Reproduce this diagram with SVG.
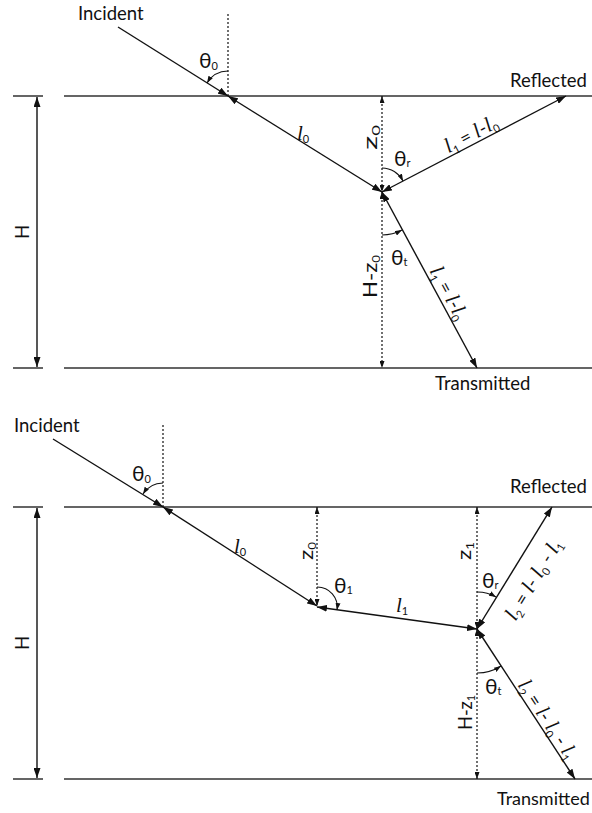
<svg xmlns="http://www.w3.org/2000/svg" width="592" height="813" viewBox="0 0 592 813">
<style>
.surf{stroke:#333;stroke-width:1.5;fill:none}
.ray{stroke:#111;stroke-width:1.4;fill:none}
.dot{stroke:#111;stroke-width:1.2;stroke-dasharray:2 2;fill:none}
.arc{stroke:#111;stroke-width:1.1;fill:none}
text{font-family:Lato,"Liberation Sans",sans-serif;font-size:18.5px;fill:#111}
.it{font-family:"Liberation Serif",serif;font-style:italic;font-size:21px}
.th{font-size:21px}
.sub{font-size:11px}
</style>
<defs>
<marker id="ah" viewBox="0 0 10 7" refX="10" refY="3.5" markerWidth="10" markerHeight="7" markerUnits="userSpaceOnUse" orient="auto-start-reverse"><path d="M0,0 L10,3.5 L0,7z" fill="#111"/></marker>
<marker id="as" viewBox="0 0 7 5" refX="7" refY="2.5" markerWidth="7" markerHeight="5" markerUnits="userSpaceOnUse" orient="auto-start-reverse"><path d="M0,0 L7,2.5 L0,5z" fill="#111"/></marker>
</defs>

<g id="surfaces">
<path class="surf" d="M13,96H43 M64,96H592 M13,368H43 M64,368H592"/>
<path class="surf" d="M13,507H43 M64,507H592 M13,779H43 M64,779H592"/>
</g>

<g id="connectors">
<line class="ray" x1="37" y1="97" x2="37" y2="367" marker-start="url(#ah)" marker-end="url(#ah)"/>
<line class="ray" x1="118" y1="27" x2="228" y2="96" marker-end="url(#ah)"/>
<line class="dot" x1="228" y1="14" x2="228" y2="96"/>
<line class="ray" x1="228" y1="96" x2="382" y2="192" marker-start="url(#ah)" marker-end="url(#ah)"/>
<line class="ray" x1="382" y1="192" x2="566" y2="96" marker-start="url(#ah)" marker-end="url(#ah)"/>
<line class="ray" x1="382" y1="192" x2="477" y2="368" marker-start="url(#ah)" marker-end="url(#ah)"/>
<line class="dot" x1="382" y1="96" x2="382" y2="192" marker-start="url(#as)" marker-end="url(#as)"/>
<line class="dot" x1="382" y1="192" x2="382" y2="368" marker-start="url(#as)" marker-end="url(#as)"/>
<path class="arc" d="M228,71 A25,25 0 0 0 207,83" marker-end="url(#as)"/>
<path class="arc" d="M382,168 A24,24 0 0 1 403,181" marker-end="url(#as)"/>
<path class="arc" d="M382,235 A43,43 0 0 0 402,230" marker-end="url(#as)"/>
<line class="ray" x1="37" y1="508" x2="37" y2="778" marker-start="url(#ah)" marker-end="url(#ah)"/>
<line class="ray" x1="53" y1="439" x2="163" y2="507" marker-end="url(#ah)"/>
<line class="dot" x1="163" y1="425" x2="163" y2="507"/>
<line class="ray" x1="163" y1="507" x2="317" y2="606" marker-start="url(#ah)" marker-end="url(#ah)"/>
<line class="dot" x1="317" y1="507" x2="317" y2="606" marker-start="url(#as)" marker-end="url(#as)"/>
<line class="ray" x1="317" y1="607" x2="477" y2="629" marker-start="url(#ah)" marker-end="url(#ah)"/>
<line class="dot" x1="477" y1="507" x2="477" y2="629" marker-start="url(#as)" marker-end="url(#as)"/>
<line class="dot" x1="477" y1="629" x2="477" y2="779" marker-start="url(#as)" marker-end="url(#as)"/>
<line class="ray" x1="477" y1="629" x2="552" y2="507" marker-start="url(#ah)" marker-end="url(#ah)"/>
<line class="ray" x1="477" y1="629" x2="575" y2="779" marker-start="url(#ah)" marker-end="url(#ah)"/>
<path class="arc" d="M163,483 A24,24 0 0 0 143,494" marker-end="url(#as)"/>
<path class="arc" d="M317,587 A20,20 0 0 1 337,610" marker-end="url(#as)"/>
<path class="arc" d="M477,592 A37,37 0 0 1 496,597" marker-end="url(#as)"/>
<path class="arc" d="M477,673 A44,44 0 0 0 501,666" marker-end="url(#as)"/>
</g>

<g id="labels-top">
<text id="t-incident" x="78" y="20">Incident</text>
<text id="t-theta0" x="199" y="68"><tspan class="th">θ</tspan><tspan class="sub" dy="2">0</tspan></text>
<text id="t-reflected" x="510" y="87">Reflected</text>
<text id="t-transmitted" x="435" y="390">Transmitted</text>
<text id="t-thetar" x="394" y="166"><tspan class="th">θ</tspan><tspan class="sub" dy="1">r</tspan></text>
<text id="t-thetat" x="391" y="265"><tspan class="th">θ</tspan><tspan class="sub" dy="1">t</tspan></text>
<text id="t-l0" x="297" y="140"><tspan class="it">l</tspan><tspan class="sub" dy="3">0</tspan></text>
<text id="t-H" transform="translate(29,232) rotate(-90)" text-anchor="middle">H</text>
<text id="t-z0" transform="translate(377,150) rotate(-90)" textLength="25" lengthAdjust="spacingAndGlyphs">z<tspan class="sub" dy="3">0</tspan></text>
<text id="t-Hz0" transform="translate(377,298) rotate(-90)" textLength="43" lengthAdjust="spacingAndGlyphs">H-z<tspan class="sub" dy="3">0</tspan></text>
<text id="t-l1r" transform="translate(474,140) rotate(-27.7)" text-anchor="middle"><tspan class="it">l</tspan><tspan class="sub" dy="4">1</tspan><tspan dy="-4"> = </tspan><tspan class="it">l</tspan>-<tspan class="it">l</tspan><tspan class="sub" dy="4">0</tspan></text>
<text id="t-l1t" transform="translate(443,296) rotate(61.6)" text-anchor="middle"><tspan class="it">l</tspan><tspan class="sub" dy="4">1</tspan><tspan dy="-4"> = </tspan><tspan class="it">l</tspan>-<tspan class="it">l</tspan><tspan class="sub" dy="4">0</tspan></text>
</g>

<g id="labels-bottom">
<text id="b-incident" x="14" y="432">Incident</text>
<text id="b-theta0" x="132" y="481"><tspan class="th">θ</tspan><tspan class="sub" dy="2">0</tspan></text>
<text id="b-reflected" x="510" y="493">Reflected</text>
<text id="b-transmitted" x="497" y="805" style="font-size:18px">Transmitted</text>
<text id="b-l0" x="234" y="553"><tspan class="it">l</tspan><tspan class="sub" dy="3">0</tspan></text>
<text id="b-H" transform="translate(29,643) rotate(-90)" text-anchor="middle">H</text>
<text id="b-z0" transform="translate(313,560) rotate(-90)" textLength="18" lengthAdjust="spacingAndGlyphs">z<tspan class="sub" dy="3">0</tspan></text>
<text id="b-theta1" x="334" y="593"><tspan class="th">θ</tspan><tspan class="sub" dy="1">1</tspan></text>
<text id="b-l1" x="396" y="612"><tspan class="it">l</tspan><tspan class="sub" dy="3">1</tspan></text>
<text id="b-z1" transform="translate(471,560) rotate(-90)" textLength="18" lengthAdjust="spacingAndGlyphs">z<tspan class="sub" dy="3">1</tspan></text>
<text id="b-thetar" x="482" y="588"><tspan class="th">θ</tspan><tspan class="sub" dy="1">r</tspan></text>
<text id="b-thetat" x="485" y="694"><tspan class="th">θ</tspan><tspan class="sub" dy="1">t</tspan></text>
<text id="b-Hz1" transform="translate(472,730) rotate(-90)" textLength="35" lengthAdjust="spacingAndGlyphs">H-z<tspan class="sub" dy="3">1</tspan></text>
<text id="b-l2r" transform="translate(539,583) rotate(-58.8)" text-anchor="middle"><tspan class="it">l</tspan><tspan class="sub" dy="4">2</tspan><tspan dy="-4"> = </tspan><tspan class="it">l</tspan>- <tspan class="it">l</tspan><tspan class="sub" dy="4">0</tspan><tspan dy="-4"> - </tspan><tspan class="it">l</tspan><tspan class="sub" dy="4">1</tspan></text>
<text id="b-l2t" transform="translate(542,723) rotate(56.8)" text-anchor="middle"><tspan class="it">l</tspan><tspan class="sub" dy="4">2</tspan><tspan dy="-4"> = </tspan><tspan class="it">l</tspan>- <tspan class="it">l</tspan><tspan class="sub" dy="4">0</tspan><tspan dy="-4"> - </tspan><tspan class="it">l</tspan><tspan class="sub" dy="4">1</tspan></text>
</g>
</svg>
